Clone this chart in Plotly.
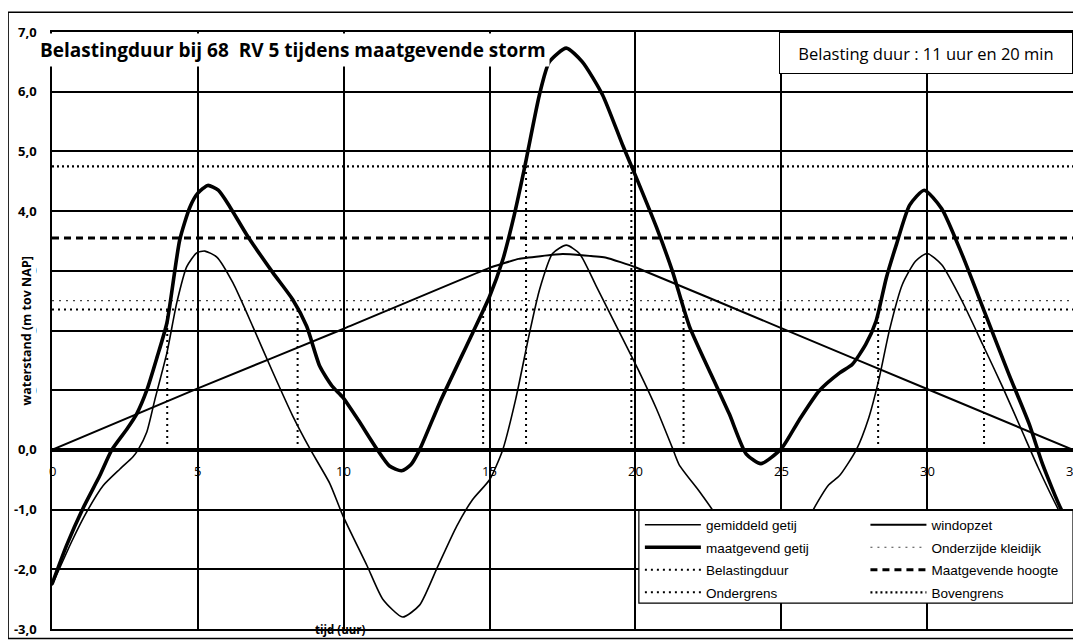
import plotly.graph_objects as go

# ---------------- data ----------------
# maatgevend getij (thick)
maat_t = [0, 0.5, 1.06, 1.64, 2.05, 2.57, 2.9, 3.25, 3.6, 3.94, 4.38, 4.73, 5.0, 5.34, 5.7, 6.1, 6.68,
          7.57, 8.25, 8.73, 9.18, 9.6, 9.97, 10.5, 11.13, 11.57, 11.98, 12.3, 12.6, 13.3, 14.42, 15.0,
          15.45, 15.8, 16.2, 16.71, 17.05, 17.63, 18.18, 18.87, 19.55, 20.03, 20.72, 21.27, 21.85,
          22.77, 23.22, 23.8, 24.3, 25.0, 25.6, 26.3, 27.0, 27.43, 27.9, 28.25, 28.6, 28.94, 29.4,
          29.9, 30.5, 31.2, 32.0, 32.8, 33.5, 33.95, 34.6, 35]
maat_h = [-2.25, -1.6, -0.98, -0.43, 0.0, 0.35, 0.6, 1.0, 1.55, 2.13, 3.52, 4.07, 4.3, 4.43, 4.35, 4.07,
          3.6, 2.97, 2.52, 2.07, 1.4, 1.07, 0.88, 0.5, 0.02, -0.27, -0.35, -0.25, 0.0, 0.8, 1.96, 2.57,
          3.18, 3.84, 4.73, 5.95, 6.5, 6.73, 6.5, 5.95, 5.12, 4.56, 3.73, 2.99, 2.07,
          1.08, 0.6, -0.07, -0.23, 0.02, 0.49, 0.99, 1.29, 1.43, 1.77, 2.16, 2.88, 3.43, 4.1,
          4.35, 4.04, 3.27, 2.27, 1.27, 0.43, -0.23, -1.0, -1.3]

# gemiddeld getij (thin)
gem_t = [0, 0.68, 1.2, 1.75, 2.33, 2.77, 2.95, 3.25, 3.53, 3.94, 4.28, 4.62, 4.96, 5.24, 5.65, 6.2, 6.88,
         7.57, 8.25, 8.84, 9.52, 9.97, 10.8, 11.34, 12.02, 12.6, 13.18, 13.87, 14.42, 15.0, 15.45,
         15.9, 16.37, 16.71, 17.16, 17.63, 18.08, 18.66, 19.35, 20.14, 20.72, 21.27, 21.5, 22.2,
         22.7, 23.5, 24.3, 24.8, 25.3, 25.96, 26.6, 27.0, 27.57, 28.0, 28.36, 28.7, 29.15, 29.6,
         30.0, 30.5, 31.2, 31.9, 32.6, 33.25, 33.8, 34.5, 35]
gem_h = [-2.27, -1.53, -1.03, -0.6, -0.32, -0.12, 0.0, 0.3, 0.85, 1.63, 2.47, 3.07, 3.3, 3.33, 3.23, 2.8,
         2.07, 1.3, 0.57, 0.02, -0.56, -1.1, -1.94, -2.5, -2.8, -2.6, -2.0, -1.28, -0.83, -0.5, 0.0,
         0.86, 1.96, 2.68, 3.29, 3.43, 3.29, 2.74, 2.07, 1.3, 0.69, 0.03, -0.25, -0.7,
         -1.05, -1.8, -2.3, -2.4, -2.0, -1.13, -0.6, -0.43, 0.0, 0.54, 1.21, 1.99, 2.77, 3.16,
         3.29, 3.1, 2.49, 1.77, 1.04, 0.32, -0.29, -1.0, -1.45]

# windopzet
wind_t = [0, 5, 10, 15, 16, 17.5, 19, 20, 25, 30, 35]
wind_h = [0, 1.03, 2.03, 3.05, 3.2, 3.28, 3.22, 3.06, 2.04, 1.02, 0]

# horizontal reference levels
t_range = [0, 35]
bovengrens = 4.75
maatgevende_hoogte = 3.55
onderzijde_kleidijk = 2.5
ondergrens = 2.35

# belastingduur: crossing times and their levels
bel_times = [3.95, 8.42, 14.78, 16.25, 19.86, 21.65, 28.32, 31.95]
bel_levels = [2.35, 2.35, 2.35, 4.75, 4.75, 2.35, 2.35, 2.35]

x_ticks = [0, 5, 10, 15, 20, 25, 30, 35]
y_ticks = [-3, -2, -1, 0, 1, 2, 3, 4, 5, 6, 7]
y_ticktext = ["-3,0", "-2,0", "-1,0", "0,0", "1,0", "2,0", "3,0", "4,0", "5,0", "6,0", "7,0"]

title_text = "Belastingduur bij 68  RV 5 tijdens maatgevende storm"
info_text = "Belasting duur : 11 uur en 20 min"

# ---------------- figure ----------------
fig = go.Figure()

bel_x, bel_y = [], []
for t, lv in zip(bel_times, bel_levels):
    bel_x += [t, t, None]
    bel_y += [0, lv, None]

def add(x, y, name, line, legend, rank):
    fig.add_trace(go.Scatter(x=x, y=y, mode="lines", name=name, line=line, legend=legend,
                             legendgroup=name, legendrank=rank))

add(t_range, [onderzijde_kleidijk] * 2, "Onderzijde kleidijk",
    dict(color="#444", width=1.2, dash="2px,5px"), "legend2", 2)
add(t_range, [ondergrens] * 2, "Ondergrens", dict(color="black", width=2, dash="2px,4px"), "legend", 4)
add(t_range, [bovengrens] * 2, "Bovengrens", dict(color="black", width=2.2, dash="2px,3px"), "legend2", 4)
add(t_range, [maatgevende_hoogte] * 2, "Maatgevende hoogte",
    dict(color="black", width=3, dash="7px,5px"), "legend2", 3)
add(bel_x, bel_y, "Belastingduur", dict(color="black", width=2, dash="2px,4px"), "legend", 3)
add(wind_t, wind_h, "windopzet", dict(color="black", width=2, shape="spline", smoothing=0.3), "legend2", 1)
add(gem_t, gem_h, "gemiddeld getij", dict(color="black", width=1.6, shape="spline", smoothing=0.6),
    "legend", 1)
add(maat_t, maat_h, "maatgevend getij", dict(color="black", width=3.6, shape="spline", smoothing=0.6),
    "legend", 2)

# x tick labels sit just below the zero line
for v in x_ticks:
    fig.add_annotation(x=v, y=0, xref="x", yref="y", text=str(v), showarrow=False,
                       yanchor="top", yshift=-10, font=dict(family="Open Sans", size=13, color="black"))

fig.add_annotation(x=0.0, y=1.0, xref="paper", yref="paper", text="<b>" + title_text + "</b>",
                   showarrow=False, xanchor="left", yanchor="top", xshift=-16, yshift=-1,
                   font=dict(family="Open Sans", size=19, color="black"), bgcolor="white", borderpad=3)
fig.add_annotation(x=1.0, y=1.0, xref="paper", yref="paper", text=info_text, showarrow=False,
                   xanchor="right", yanchor="top", width=288, height=36,
                   font=dict(family="Open Sans", size=16.5, color="black"), bgcolor="white",
                   bordercolor="black", borderwidth=1, borderpad=2)
fig.add_annotation(x=-0.0245, y=2.0, xref="paper", yref="y", text="<b>waterstand (m tov NAP]</b>",
                   showarrow=False, textangle=-90, xanchor="center", yanchor="middle",
                   font=dict(family="Open Sans", size=12.5, color="black"),
                   bgcolor="white", borderpad=0)
fig.add_annotation(x=9.9, y=-3.0, xref="x", yref="y", text="<b>tijd (uur)</b>", showarrow=False,
                   font=dict(family="Open Sans", size=11.5, color="black"))

# outer frame
fig.add_shape(type="rect", xref="paper", yref="paper", x0=-0.043, x1=1.003, y0=-0.016, y1=1.033,
              line=dict(color="black", width=1.5), layer="below")
# legend box
fig.add_shape(type="rect", xref="paper", yref="paper", x0=0.5748, x1=1.0, y0=0.0434, y1=0.1987,
              line=dict(color="black", width=1.2), fillcolor="white", layer="above")

fig.update_xaxes(range=[0, 35], tickvals=x_ticks, showticklabels=False, showgrid=True,
                 gridcolor="black", gridwidth=1.5, showline=True, mirror=True, linecolor="black",
                 linewidth=1.5, zeroline=False, ticks="")
fig.update_yaxes(range=[-3, 7], tickvals=y_ticks, ticktext=y_ticktext, showgrid=True, gridcolor="black",
                 gridwidth=1.5, showline=True, mirror=True, linecolor="black", linewidth=1.5,
                 zeroline=True, zerolinecolor="black", zerolinewidth=3.5, ticks="", ticklabelstandoff=11,
                 tickfont=dict(family="Open Sans", size=13, color="black", weight="bold"))

leg_common = dict(orientation="v", yanchor="top", xanchor="left", bgcolor="rgba(0,0,0,0)",
                  borderwidth=0, font=dict(family="Liberation Sans", size=13.5, color="black"),
                  itemwidth=56, traceorder="grouped", tracegroupgap=2)
# the page body adds an 8 px margin, so the figure is 8 px smaller and margins shifted
fig.update_layout(
    width=1073, height=636,
    margin=dict(l=44, r=6, t=24, b=13),
    paper_bgcolor="white", plot_bgcolor="white",
    showlegend=True,
    legend=dict(x=0.5758, y=0.2003, **leg_common),
    legend2=dict(x=0.7967, y=0.2003, **leg_common),
)

fig.write_html("out.html")
